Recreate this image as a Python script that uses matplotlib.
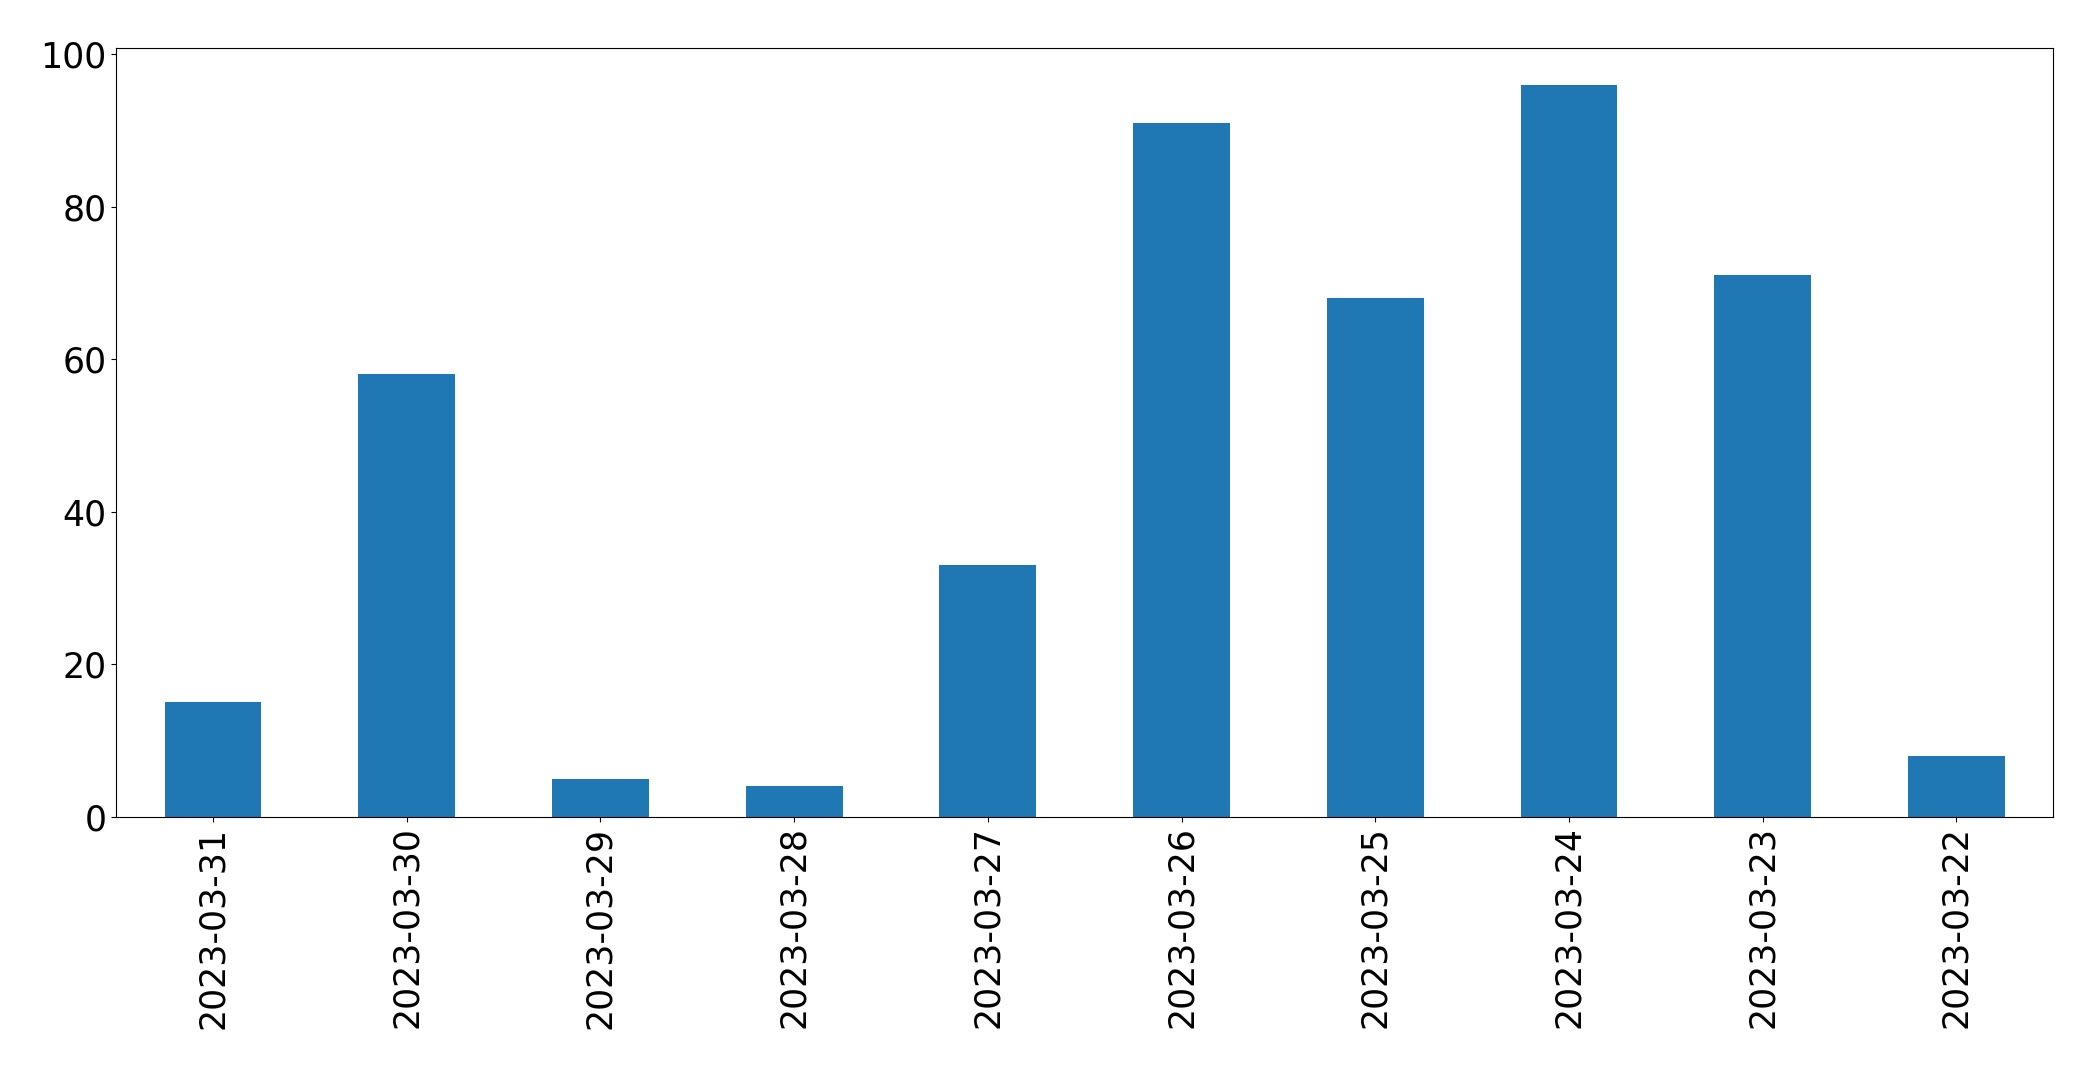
import matplotlib
matplotlib.use("Agg")
import matplotlib.pyplot as plt

dates = ["2023-03-31", "2023-03-30", "2023-03-29", "2023-03-28", "2023-03-27",
         "2023-03-26", "2023-03-25", "2023-03-24", "2023-03-23", "2023-03-22"]
values = [15, 58, 5, 4, 33, 91, 68, 96, 71, 8]

fig = plt.figure(figsize=(20.93, 10.69), dpi=100)
ax = fig.add_axes([0.0555, 0.236, 0.9255, 0.719])
x = list(range(len(dates)))
ax.bar(x, values, width=0.5, color="#1f77b4")
ax.set_xlim(-0.5, len(dates) - 0.5)
ax.set_ylim(0, max(values) * 1.05)
ax.set_xticks(x)
ax.set_xticklabels(dates, rotation=90)
ax.tick_params(labelsize=25)
fig.savefig("out.png", dpi=100)
